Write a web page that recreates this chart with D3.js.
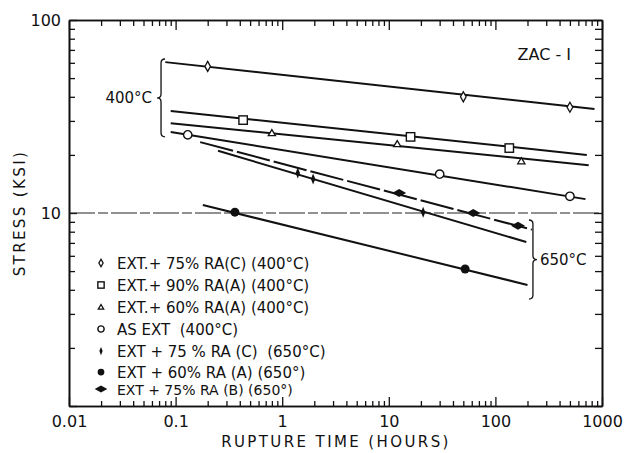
<!DOCTYPE html>
<html><head><meta charset="utf-8">
<script src="https://cdn.jsdelivr.net/npm/d3@7"></script>
<style>body{margin:0;background:#fff}svg{display:block}</style>
</head><body>
<svg id="c" width="626" height="453"></svg>
<script>
// ---------- data ----------
const legendLabels = [
  "EXT.+ 75% RA(C) (400°C)",
  "EXT.+ 90% RA(A) (400°C)",
  "EXT.+ 60% RA(A) (400°C)",
  "AS EXT  (400°C)",
  "EXT + 75 % RA (C)  (650°C)",
  "EXT + 60% RA (A) (650°)",
  "EXT + 75% RA (B) (650°)"
];
// measured points (rupture time h, stress ksi)
const ptsTime = [
  [0.2, 50, 500],
  [0.43, 16, 135],
  [0.8, 12, 175],
  [0.13, 30, 500],
  [1.4, 1.95, 21],
  [0.36, 52],
  [12.5, 62, 163]
];
const ptsStress = [
  [57.5, 40, 35.3],
  [30.3, 24.8, 21.7],
  [26.0, 22.8, 18.6],
  [25.4, 15.9, 12.2],
  [16.1, 15.0, 10.1],
  [10.1, 5.13],
  [12.7, 10.0, 8.6]
];
// fitted straight lines (start, end)
const fitTime = [
  [0.08, 850],
  [0.09, 720],
  [0.09, 750],
  [0.09, 700],
  [0.25, 195],
  [0.18, 200],
  [0.17, 220]
];
const fitStress = [
  [60.5, 34.6],
  [33.8, 20.0],
  [29.2, 17.7],
  [26.3, 11.8],
  [21.0, 7.07],
  [11.0, 4.24],
  [23.3, 8.2]
];
const xTickValues = [0.01, 0.1, 1, 10, 100, 1000];
const xTickLabels = ["0.01", "0.1", "1", "10", "100", "1000"];
const yTickValues = [1, 10, 100];
const yTickLabels = ["", "10", "100"];
const bracket400 = {time: 0.073, top: 62.8, bottom: 24.8, label: "400°C"};
const bracket650 = {time: 225, top: 9.2, bottom: 3.58, label: "650°C"};
const chartTitle = "ZAC - I";

// ---------- layout ----------
const svg = d3.select("#c");
const L = 69, R = 602, T = 20, B = 406;
const x = d3.scaleLog().domain([0.01, 1000]).range([L, R]);
const y = d3.scaleLog().domain([1, 100]).range([B, T]);
const FONT = "'DejaVu Sans', sans-serif";

// minor ticks
const minorX = [], minorY = [];
for (let k = -2; k < 3; k++) for (let m = 2; m <= 9; m++) minorX.push(m * Math.pow(10, k));
for (let k = 0; k < 2; k++) for (let m = 2; m <= 9; m++) minorY.push(m * Math.pow(10, k));

function styleAxis(g) {
  g.selectAll("path.domain").attr("stroke", "#111").attr("stroke-width", 1.6);
  g.selectAll(".tick line").attr("stroke", "#111").attr("stroke-width", 1.3);
  g.selectAll("text").attr("font-family", FONT).attr("font-size", 16).attr("fill", "#111");
}
// bottom
svg.append("g").attr("transform", `translate(0,${B})`)
  .call(d3.axisBottom(x).tickValues(minorX).tickSizeInner(-5).tickSizeOuter(0).tickFormat(""))
  .call(styleAxis);
svg.append("g").attr("transform", `translate(0,${B})`)
  .call(d3.axisBottom(x).tickValues(xTickValues).tickSizeInner(-9).tickSizeOuter(0).tickPadding(10)
    .tickFormat((d, i) => xTickLabels[i]))
  .call(styleAxis);
// top
svg.append("g").attr("transform", `translate(0,${T})`)
  .call(d3.axisTop(x).tickValues(minorX).tickSizeInner(-6).tickSizeOuter(0).tickFormat(""))
  .call(styleAxis);
svg.append("g").attr("transform", `translate(0,${T})`)
  .call(d3.axisTop(x).tickValues(xTickValues).tickSizeInner(-10).tickSizeOuter(0).tickFormat(""))
  .call(styleAxis);
// left
svg.append("g").attr("transform", `translate(${L},0)`)
  .call(d3.axisLeft(y).tickValues(minorY).tickSizeInner(-6).tickSizeOuter(0).tickFormat(""))
  .call(styleAxis);
svg.append("g").attr("transform", `translate(${L},0)`)
  .call(d3.axisLeft(y).tickValues(yTickValues).tickSizeInner(-8).tickSizeOuter(0).tickPadding(8)
    .tickFormat((d, i) => yTickLabels[i]))
  .call(styleAxis);
// right
svg.append("g").attr("transform", `translate(${R},0)`)
  .call(d3.axisRight(y).tickValues(minorY).tickSizeInner(-7).tickSizeOuter(0).tickFormat(""))
  .call(styleAxis);
svg.append("g").attr("transform", `translate(${R},0)`)
  .call(d3.axisRight(y).tickValues(yTickValues).tickSizeInner(-8).tickSizeOuter(0).tickFormat(""))
  .call(styleAxis);

// reference line at 10 ksi
svg.append("line").attr("x1", L).attr("x2", R).attr("y1", y(10)).attr("y2", y(10))
  .attr("stroke", "#222").attr("stroke-width", 1).attr("stroke-dasharray", "26,3,10,3");

// axis titles
svg.append("text").attr("x", 336).attr("y", 447)
  .attr("text-anchor", "middle").attr("font-family", FONT).attr("font-size", 15)
  .attr("letter-spacing", 2.4).attr("fill", "#111").text("RUPTURE TIME (HOURS)");
svg.append("text").attr("transform", `translate(25,${(T + B) / 2}) rotate(-90)`)
  .attr("text-anchor", "middle").attr("font-family", FONT).attr("font-size", 15)
  .attr("letter-spacing", 2.4).attr("fill", "#111").text("STRESS (KSI)");

// fitted lines
const dashes = [null, null, null, null, null, null, "34,4"];
fitTime.forEach((tx, i) => {
  svg.append("path")
    .attr("d", d3.line()([[x(tx[0]), y(fitStress[i][0])], [x(tx[1]), y(fitStress[i][1])]]))
    .attr("stroke", "#111").attr("stroke-width", 2).attr("fill", "none")
    .attr("stroke-dasharray", dashes[i]);
});

// markers
function marker(g, type, cx, cy, s) {
  const fillOpen = "#fff", stroke = "#111";
  let el;
  switch (type) {
    case 0: // open narrow diamond
      el = g.append("path").attr("d", `M0,${-5*s}L${2.8*s},0L0,${5*s}L${-2.8*s},0Z`)
        .attr("fill", fillOpen).attr("stroke", stroke).attr("stroke-width", 1.3); break;
    case 1: // open square
      el = g.append("rect").attr("x", -4.2*s).attr("y", -4.2*s).attr("width", 8.4*s).attr("height", 8.4*s)
        .attr("fill", fillOpen).attr("stroke", stroke).attr("stroke-width", 1.4); break;
    case 2: // open triangle
      el = g.append("path").attr("d", `M0,${-3.3*s}L${3.6*s},${2.8*s}L${-3.6*s},${2.8*s}Z`)
        .attr("fill", fillOpen).attr("stroke", stroke).attr("stroke-width", 1.3); break;
    case 3: // open circle
      el = g.append("circle").attr("r", 4.2*s)
        .attr("fill", fillOpen).attr("stroke", stroke).attr("stroke-width", 1.4); break;
    case 4: // thin filled diamond
      el = g.append("path").attr("d", `M0,${-5.5*s}L${2.2*s},0L0,${5.5*s}L${-2.2*s},0Z`)
        .attr("fill", stroke); break;
    case 5: // filled circle
      el = g.append("circle").attr("r", 4.5*s).attr("fill", stroke); break;
    case 6: // wide filled diamond
      el = g.append("path").attr("d", `M${-7*s},0L0,${-4*s}L${7*s},0L0,${4*s}Z`)
        .attr("fill", stroke); break;
  }
  el.attr("transform", `translate(${cx},${cy})`);
}
const mg = svg.append("g");
ptsTime.forEach((arr, i) => {
  arr.forEach((t, j) => marker(mg, i, x(t), y(ptsStress[i][j]), 1));
});

// brackets
function brace(x0, y1, y2, dir, w) {
  const ym = (y1 + y2) / 2, r = 4;
  const xe = x0 - dir * w, xt = x0 + dir * w;
  return `M${xe},${y1}Q${x0},${y1} ${x0},${y1 + r}L${x0},${ym - r}Q${x0},${ym} ${xt},${ym}` +
         `Q${x0},${ym} ${x0},${ym + r}L${x0},${y2 - r}Q${x0},${y2} ${xe},${y2}`;
}
const b4x = x(bracket400.time), b4y1 = y(bracket400.top), b4y2 = y(bracket400.bottom);
svg.append("path").attr("d", brace(b4x, b4y1, b4y2, -1, 4))
  .attr("fill", "none").attr("stroke", "#111").attr("stroke-width", 1.3);
svg.append("text").attr("x", b4x - 9).attr("y", (b4y1 + b4y2) / 2 + 5)
  .attr("text-anchor", "end").attr("font-family", FONT).attr("font-size", 15).attr("fill", "#111")
  .text(bracket400.label);
const b6x = x(bracket650.time), b6y1 = y(bracket650.top), b6y2 = y(bracket650.bottom);
svg.append("path").attr("d", brace(b6x, b6y1, b6y2, 1, 4))
  .attr("fill", "none").attr("stroke", "#111").attr("stroke-width", 1.3);
svg.append("text").attr("x", b6x + 7).attr("y", (b6y1 + b6y2) / 2 + 5)
  .attr("text-anchor", "start").attr("font-family", FONT).attr("font-size", 15).attr("fill", "#111")
  .text(bracket650.label);

// title
svg.append("text").attr("x", 571).attr("y", 60).attr("text-anchor", "end")
  .attr("font-family", FONT).attr("font-size", 16).attr("fill", "#111").text(chartTitle);

// legend
const legY = [263, 285, 307, 329, 351, 372, 389];
const lg = svg.append("g");
legendLabels.forEach((lab, i) => {
  marker(lg, i, 101, legY[i], i === 6 ? 0.9 : 0.75);
  lg.append("text").attr("x", 117).attr("y", legY[i] + 5.5)
    .attr("font-family", FONT).attr("font-size", i === 6 ? 14 : 15).attr("fill", "#111")
    .attr("xml:space", "preserve").style("white-space", "pre")
    .text(lab);
});
</script>
</body></html>
